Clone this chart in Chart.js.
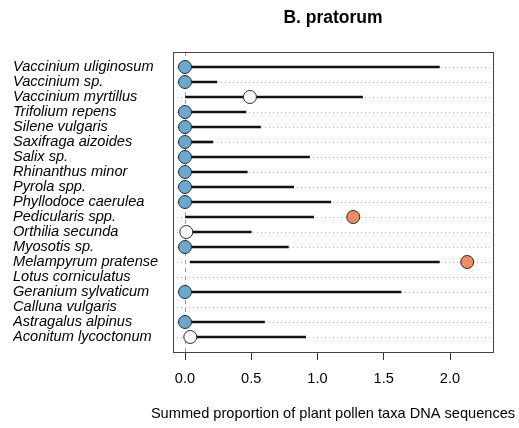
<!DOCTYPE html>
<html>
<head>
<meta charset="utf-8">
<script src="https://cdn.jsdelivr.net/npm/chart.js@4"></script>
<style>
  html, body { margin: 0; padding: 0; background: #fff; }
  canvas { display: block; }
</style>
</head>
<body>
<canvas id="pollen" width="519" height="428"></canvas>
<script>
// taxa listed top to bottom
var taxa = [
    'Vaccinium uliginosum', 'Vaccinium sp.', 'Vaccinium myrtillus', 'Trifolium repens',
    'Silene vulgaris', 'Saxifraga aizoides', 'Salix sp.', 'Rhinanthus minor',
    'Pyrola spp.', 'Phyllodoce caerulea', 'Pedicularis spp.', 'Orthilia secunda',
    'Myosotis sp.', 'Melampyrum pratense', 'Lotus corniculatus', 'Geranium sylvaticum',
    'Calluna vulgaris', 'Astragalus alpinus', 'Aconitum lycoctonum'
];
// null-model range of summed proportions
var rangeLow  = [0, 0, 0, 0, 0, 0, 0, 0, 0, 0, 0, 0.01, 0, 0.04, null, 0, null, 0, 0.04];
var rangeHigh = [1.92, 0.24, 1.34, 0.46, 0.57, 0.21, 0.94, 0.47, 0.82, 1.10, 0.97, 0.50, 0.78, 1.92, null, 1.63, null, 0.60, 0.91];
// observed summed proportion
var observed  = [0, 0, 0.49, 0, 0, 0, 0, 0, 0, 0, 1.27, 0.01, 0, 2.13, null, 0, null, 0, 0.04];
// where the observed value falls against the range
// (not called "status": that name is taken by window.status)
var outcome   = ['below', 'below', 'within', 'below', 'below', 'below', 'below', 'below', 'below', 'below',
                 'above', 'within', 'below', 'above', null, 'below', null, 'below', 'within'];
var xTicks = [0, 0.5, 1, 1.5, 2];

var outcomeColors = { below: '#67a9cf', within: '#f7f7f7', above: '#ef8a62' };
var FONT = "'Liberation Sans', Arial, Helvetica, sans-serif";

var segments = [];
taxa.forEach(function (name, i) {
    if (rangeHigh[i] !== null) segments.push({ x: [rangeLow[i], rangeHigh[i]], y: i + 1 });
});

function pointsFor(kind) {
    var pts = [];
    taxa.forEach(function (name, i) {
        if (outcome[i] === kind) pts.push({ x: observed[i], y: i + 1 });
    });
    return pts;
}

function dotDataset(kind) {
    return {
        type: 'scatter',
        data: pointsFor(kind),
        backgroundColor: outcomeColors[kind],
        borderColor: '#2b2b2b',
        borderWidth: 1,
        pointRadius: 6.5,
        pointHoverRadius: 6.5,
        order: 0
    };
}

// frame around the plot, main heading and x-axis label
var frame = {
    id: 'frame',
    afterDraw: function (chart) {
        var a = chart.chartArea, ctx = chart.ctx;
        var cx = (a.left + a.right) / 2;
        ctx.save();
        ctx.strokeStyle = '#444';
        ctx.lineWidth = 1;
        ctx.strokeRect(Math.round(a.left) + 0.5, Math.round(a.top) + 0.5,
                       Math.round(a.right - a.left), Math.round(a.bottom - a.top));
        ctx.fillStyle = '#000';
        ctx.textAlign = 'center';
        ctx.textBaseline = 'middle';
        ctx.font = 'bold 17.5px ' + FONT;
        ctx.fillText('B. pratorum', cx, 18);
        ctx.font = '14.6px ' + FONT;
        ctx.fillText('Summed proportion of plant pollen taxa DNA sequences', cx, 414);
        ctx.restore();
    }
};

new Chart(document.getElementById('pollen').getContext('2d'), {
    type: 'scatter',
    data: {
        datasets: [
            dotDataset('below'),
            dotDataset('within'),
            dotDataset('above'),
            {
                type: 'bar',
                indexAxis: 'y',
                data: segments,
                backgroundColor: '#111',
                borderWidth: 0,
                barThickness: 2,
                order: 1
            }
        ]
    },
    options: {
        responsive: false,
        animation: false,
        devicePixelRatio: 1,
        layout: { padding: { left: 13, right: 26, top: 52, bottom: 0 } },
        plugins: {
            legend: { display: false },
            tooltip: { enabled: false }
        },
        scales: {
            x: {
                type: 'linear',
                position: 'bottom',
                offset: false,
                min: -0.0906,
                max: 2.3245,
                afterBuildTicks: function (scale) {
                    scale.ticks = xTicks.map(function (v) { return { value: v }; });
                },
                afterFit: function (scale) { scale.height = 76; },
                ticks: {
                    color: '#000',
                    padding: 10,
                    font: { family: FONT, size: 14.6 },
                    callback: function (v) { return Number(v).toFixed(1); }
                },
                grid: {
                    offset: false,
                    drawTicks: true,
                    tickLength: 8,
                    tickColor: '#333',
                    tickBorderDash: [],
                    lineWidth: 1,
                    color: function (c) {
                        return c.tick && c.tick.value === 0 ? '#9a9a9a' : 'rgba(0,0,0,0)';
                    }
                },
                border: { display: false, dash: [4, 4] }
            },
            y: {
                type: 'linear',
                reverse: true,
                offset: false,
                min: 0,
                max: 20,
                afterBuildTicks: function (scale) {
                    scale.ticks = taxa.map(function (n, i) { return { value: i + 1 }; });
                },
                afterFit: function (scale) { scale.width = 160; },
                ticks: {
                    autoSkip: false,
                    crossAlign: 'far',
                    color: '#000',
                    font: { family: FONT, size: 14.6, style: 'italic' },
                    callback: function (v) { return taxa[v - 1]; }
                },
                grid: {
                    offset: false,
                    drawTicks: false,
                    color: '#b5b5b5',
                    lineWidth: 1
                },
                border: { display: false, dash: [1, 3] }
            }
        }
    },
    plugins: [frame]
});
</script>
</body>
</html>
